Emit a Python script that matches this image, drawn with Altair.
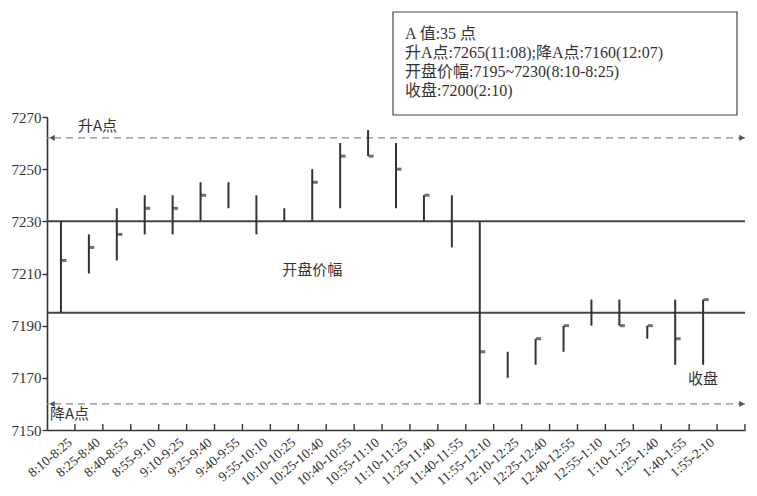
import altair as alt
import pandas as pd

cats = ["8:10-8:25", "8:25-8:40", "8:40-8:55", "8:55-9:10", "9:10-9:25", "9:25-9:40",
        "9:40-9:55", "9:55-10:10", "10:10-10:25", "10:25-10:40", "10:40-10:55", "10:55-11:10",
        "11:10-11:25", "11:25-11:40", "11:40-11:55", "11:55-12:10", "12:10-12:25", "12:25-12:40",
        "12:40-12:55", "12:55-1:10", "1:10-1:25", "1:25-1:40", "1:40-1:55", "1:55-2:10"]
blank = " "
all_cats = cats + [blank]

high = [7230, 7225, 7235, 7240, 7240, 7245, 7245, 7240, 7235, 7250, 7260, 7265,
        7260, 7240, 7240, 7230, 7180, 7185, 7190, 7200, 7200, 7190, 7200, 7200]
low = [7195, 7210, 7215, 7225, 7225, 7230, 7235, 7225, 7230, 7230, 7235, 7255,
       7235, 7230, 7220, 7160, 7170, 7175, 7180, 7190, 7190, 7185, 7175, 7175]
close = [7215, 7220, 7225, 7235, 7235, 7240, None, None, None, 7245, 7255, 7255,
         7250, 7240, None, 7180, None, 7185, 7190, None, 7190, 7190, 7185, 7200]

range_levels = [7230, 7195]
a_levels = [7262, 7160]
y_ticks = [7150, 7170, 7190, 7210, 7230, 7250, 7270]

box_lines = ["A 值:35 点",
             "升A点:7265(11:08);降A点:7160(12:07)",
             "开盘价幅:7195~7230(8:10-8:25)",
             "收盘:7200(2:10)"]

INK = "#333333"
SERIF = "Liberation Serif, Noto Sans CJK SC"
W, H = 698, 313

bars_df = pd.DataFrame({"cat": cats, "high": high, "low": low})
close_df = pd.DataFrame([{"cat": c, "close": v} for c, v in zip(cats, close) if v is not None])

x_scale = alt.Scale(domain=all_cats, paddingInner=0, paddingOuter=0)
y_scale = alt.Scale(domain=[7150, 7270], nice=False, zero=False)

x_axis = alt.Axis(title=None, labelAngle=-40, labelAlign="right", labelBaseline="top",
                  labelFont="Liberation Serif", labelFontSize=13.5, labelColor=INK,
                  ticks=False, labelPadding=5, labelOffset=5, labelOverlap=False,
                  domainColor=INK, domainWidth=1.6, grid=False)
y_axis = alt.Axis(title=None, values=y_ticks, format="d", labelFont="Liberation Serif",
                  labelFontSize=15, labelColor=INK, tickColor=INK, tickSize=5, tickWidth=1.4,
                  domainColor=INK, domainWidth=1.6, grid=False, labelPadding=1)

bars = alt.Chart(bars_df).mark_rule(color=INK, strokeWidth=2).encode(
    x=alt.X("cat:N", scale=x_scale, axis=x_axis, sort=all_cats),
    y=alt.Y("low:Q", scale=y_scale, axis=y_axis),
    y2="high:Q",
)

closes = alt.Chart(close_df).mark_tick(color=INK, thickness=3, size=5, xOffset=3,
                                       orient="horizontal").encode(
    x="cat:N", y="close:Q")

levels = alt.Chart(pd.DataFrame({"y": range_levels})).mark_rule(
    color="#444444", strokeWidth=2).encode(y="y:Q")

dashed = alt.Chart(pd.DataFrame({"y": a_levels})).mark_rule(
    color="#888888", strokeWidth=1.3, strokeDash=[7, 5]).encode(y="y:Q")

left_arrows = alt.Chart(pd.DataFrame({"cat": [cats[0]] * 2, "y": a_levels})).mark_point(
    shape="triangle-left", filled=True, size=40, color="#555555", opacity=1, xOffset=5).encode(
    x=alt.X("cat:N", bandPosition=0), y="y:Q")
right_arrows = alt.Chart(pd.DataFrame({"cat": [blank] * 2, "y": a_levels})).mark_point(
    shape="triangle-right", filled=True, size=40, color="#555555", opacity=1, xOffset=-3).encode(
    x=alt.X("cat:N", bandPosition=1), y="y:Q")

xticks = alt.Chart(pd.DataFrame({"cat": all_cats})).mark_rule(
    color=INK, strokeWidth=1.4).encode(
    x=alt.X("cat:N", bandPosition=1), y=alt.value(H), y2=alt.value(H - 6))

def label(text, cat, band, yv, align, dx=0):
    return alt.Chart(pd.DataFrame({"cat": [cat], "y": [yv], "t": [text]})).mark_text(
        align=align, baseline="middle", font="Noto Sans CJK SC", fontSize=15,
        color=INK, dx=dx).encode(x=alt.X("cat:N", bandPosition=band), y="y:Q", text="t:N")

lab_up = label("升A点", cats[1], 0, 7266.5, "left", 3)
lab_down = label("降A点", cats[0], 0, 7156, "left", 3)
lab_open = label("开盘价幅", cats[9], 0.5, 7211.5, "center")
lab_close = label("收盘", cats[23], 0.5, 7169.5, "center")

box = alt.Chart(pd.DataFrame({"k": [0]})).mark_rect(
    fill="white", stroke="#444444", strokeWidth=1.2).encode(
    x=alt.value(346), x2=alt.value(690), y=alt.value(-105), y2=alt.value(-2))
box_text = alt.Chart(pd.DataFrame({"t": ["\n".join(box_lines)]})).mark_text(
    align="left", baseline="top", lineBreak="\n", lineHeight=19, font=SERIF,
    fontSize=16, color=INK).encode(
    x=alt.value(358), y=alt.value(-91), text="t:N")

chart = alt.layer(
    levels, dashed, bars, closes, left_arrows, right_arrows, xticks,
    lab_up, lab_down, lab_open, lab_close, box, box_text
).properties(
    width=W, height=H,
    padding={"left": 39, "top": 109, "right": 3, "bottom": 64},
    autosize=alt.AutoSizeParams(type="none"),
    background="white",
).configure_view(stroke=None)

chart.save("out.html", embed_options={"renderer": "svg", "actions": False})
